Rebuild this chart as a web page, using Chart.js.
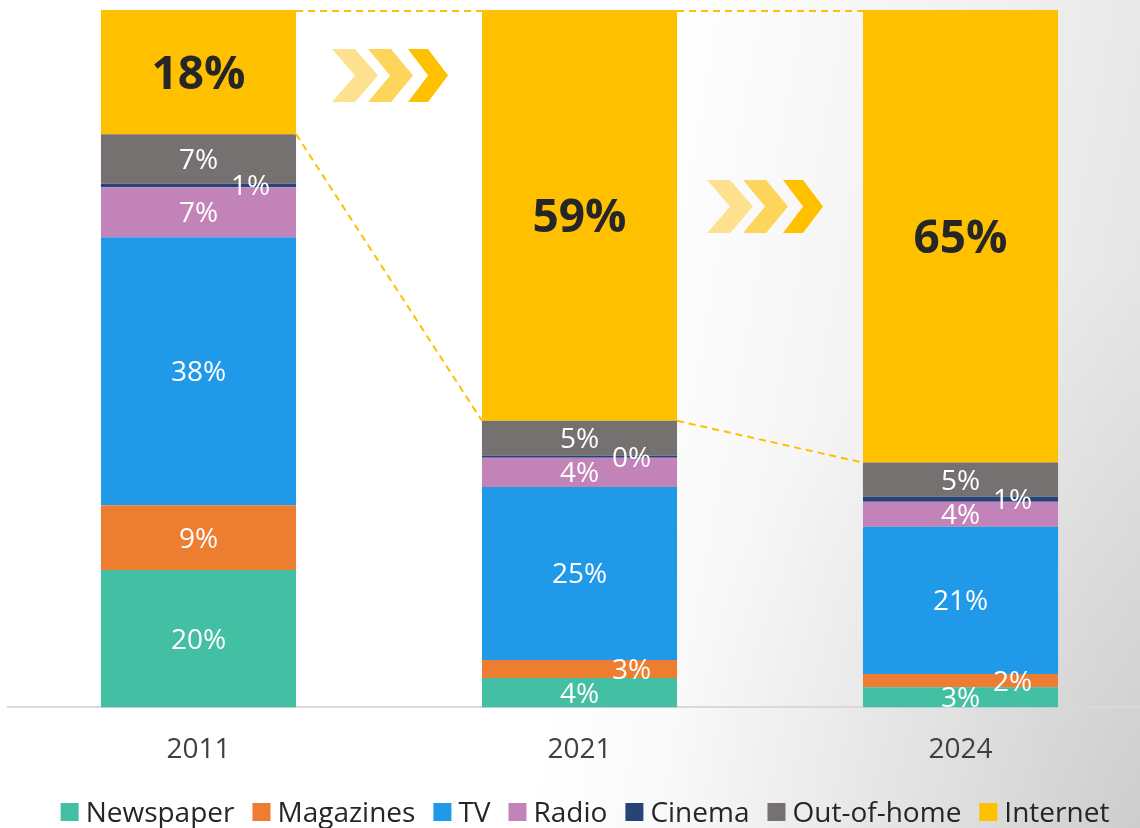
<!DOCTYPE html>
<html>
<head>
<meta charset="utf-8">
<script src="https://cdn.jsdelivr.net/npm/chart.js@4"></script>
<style>
  html, body { margin: 0; padding: 0; width: 1140px; height: 828px; overflow: hidden; }
  body {
    background:
      radial-gradient(ellipse 500px 600px at 1160px 860px, rgba(0,0,0,0.09), rgba(0,0,0,0)),
      linear-gradient(100deg, #ffffff 0%, #ffffff 52%, #f7f7f7 66%, #ececec 84%, #e0e0e0 100%);
  }
  .wrap { position: relative; width: 1160px; height: 828px; }
</style>
</head>
<body>
<div class="wrap"><canvas id="chart" width="1160" height="828"></canvas></div>
<script>
const years = ['2011', '2021', '2024'];
const seriesNames = ['Newspaper', 'Magazines', 'TV', 'Radio', 'Cinema', 'Out-of-home', 'Internet'];
const newspaper = [19.7, 4.2, 2.9];
const magazines = [9.3, 2.6, 1.9];
const tv = [38.4, 24.8, 21.1];
const radio = [7.2, 4.2, 3.6];
const cinema = [0.5, 0.3, 0.7];
const outOfHome = [7.1, 5.0, 4.9];
const internet = [17.8, 58.9, 64.9];
const colors = ['#43BFA3', '#ED7D31', '#1F99E8', '#C283B9', '#264478', '#767171', '#FFC000'];

const allSeries = [newspaper, magazines, tv, radio, cinema, outOfHome, internet];
const FONT = '"Open Sans", sans-serif';

// labels on each segment; thin segments get pushed to the right
const segmentLabels = {
  id: 'segmentLabels',
  afterDatasetsDraw(chart) {
    const ctx = chart.ctx;
    ctx.save();
    ctx.textAlign = 'center';
    ctx.textBaseline = 'middle';
    chart.data.datasets.forEach((ds, i) => {
      const meta = chart.getDatasetMeta(i);
      meta.data.forEach((bar, j) => {
        const v = ds.data[j];
        let cy = (bar.y + bar.base) / 2;
        let cx = bar.x;
        if (i === 6) {
          ctx.font = 'bold 46px ' + FONT;
          ctx.fillStyle = '#262626';
          cy += 4;
        } else {
          ctx.font = '28px ' + FONT;
          ctx.fillStyle = '#ffffff';
          cy += 2;
          if (v < 2.8) cx += 52;
        }
        ctx.fillText(Math.round(v) + '%', cx, cy);
      });
    });
    ctx.restore();
  }
};

// dashed yellow connectors between internet segments
const connectors = {
  id: 'connectors',
  afterDatasetsDraw(chart) {
    const bars = chart.getDatasetMeta(6).data;
    const ctx = chart.ctx;
    ctx.save();
    ctx.strokeStyle = '#FFC000';
    ctx.lineWidth = 2;
    ctx.setLineDash([7, 5]);
    for (let k = 0; k < bars.length - 1; k++) {
      const a = bars[k], b = bars[k + 1];
      const ax = a.x + a.width / 2, bx = b.x - b.width / 2;
      ctx.beginPath();
      ctx.moveTo(ax, a.y + 1); ctx.lineTo(bx, b.y + 1);
      ctx.moveTo(ax, a.base); ctx.lineTo(bx, b.base);
      ctx.stroke();
    }
    ctx.restore();
  }
};

// decorative chevron arrows
function chevron(ctx, x, y, arm, depth, h, color) {
  ctx.fillStyle = color;
  ctx.beginPath();
  ctx.moveTo(x, y);
  ctx.lineTo(x + arm, y);
  ctx.lineTo(x + arm + depth, y + h / 2);
  ctx.lineTo(x + arm, y + h);
  ctx.lineTo(x, y + h);
  ctx.lineTo(x + depth, y + h / 2);
  ctx.closePath();
  ctx.fill();
}
const arrows = {
  id: 'arrows',
  afterDraw(chart) {
    const bars = chart.getDatasetMeta(6).data;
    const top = chart.chartArea.top;
    const ctx = chart.ctx;
    const spots = [[bars[0], 36, 39], [bars[1], 30, 170]];
    spots.forEach(([b, dx, dy]) => {
      const x = b.x + b.width / 2 + dx, y = top + dy;
      chevron(ctx, x, y, 23, 23, 53, '#FDE18E');
      chevron(ctx, x + 36, y, 23, 22, 53, '#FDD55A');
      chevron(ctx, x + 76, y, 20, 20, 53, '#FFC000');
    });
  }
};

// legend drawn by hand so the box/text spacing matches
const bottomLegend = {
  id: 'bottomLegend',
  afterDraw(chart) {
    const ctx = chart.ctx;
    const box = 18, gapBox = 7, gapItem = 18;
    ctx.save();
    ctx.font = '28px ' + FONT;
    const items = chart.data.datasets.map(ds => ({ text: ds.label, color: ds.backgroundColor, w: ctx.measureText(ds.label).width }));
    const total = items.reduce((s, it) => s + box + gapBox + it.w, 0) + gapItem * (items.length - 1);
    let x = 585 - total / 2;
    const yBox = 803;
    ctx.textBaseline = 'alphabetic';
    ctx.textAlign = 'left';
    items.forEach(it => {
      ctx.fillStyle = it.color;
      ctx.fillRect(x, yBox, box, box);
      x += box + gapBox;
      ctx.fillStyle = '#262626';
      ctx.fillText(it.text, x, 822);
      x += it.w + gapItem;
    });
    ctx.restore();
  }
};

new Chart(document.getElementById('chart'), {
  type: 'bar',
  data: {
    labels: years,
    datasets: allSeries.map((d, i) => ({
      label: seriesNames[i],
      data: d,
      backgroundColor: colors[i],
      borderWidth: 0,
      barPercentage: 1,
      categoryPercentage: 0.512
    }))
  },
  options: {
    responsive: false,
    animation: false,
    layout: { padding: { left: 8, right: 9, top: 10, bottom: 35 } },
    scales: {
      x: {
        stacked: true,
        grid: { display: false, drawTicks: false },
        border: { display: true, color: '#D9D9D9', width: 2 },
        ticks: { color: '#404040', font: { family: FONT, size: 28 }, padding: 26 }
      },
      y: {
        stacked: true, min: 0, max: 100, display: false
      }
    },
    plugins: {
      legend: { display: false },
      tooltip: { enabled: false }
    }
  },
  plugins: [connectors, segmentLabels, arrows, bottomLegend]
});
</script>
</body>
</html>
